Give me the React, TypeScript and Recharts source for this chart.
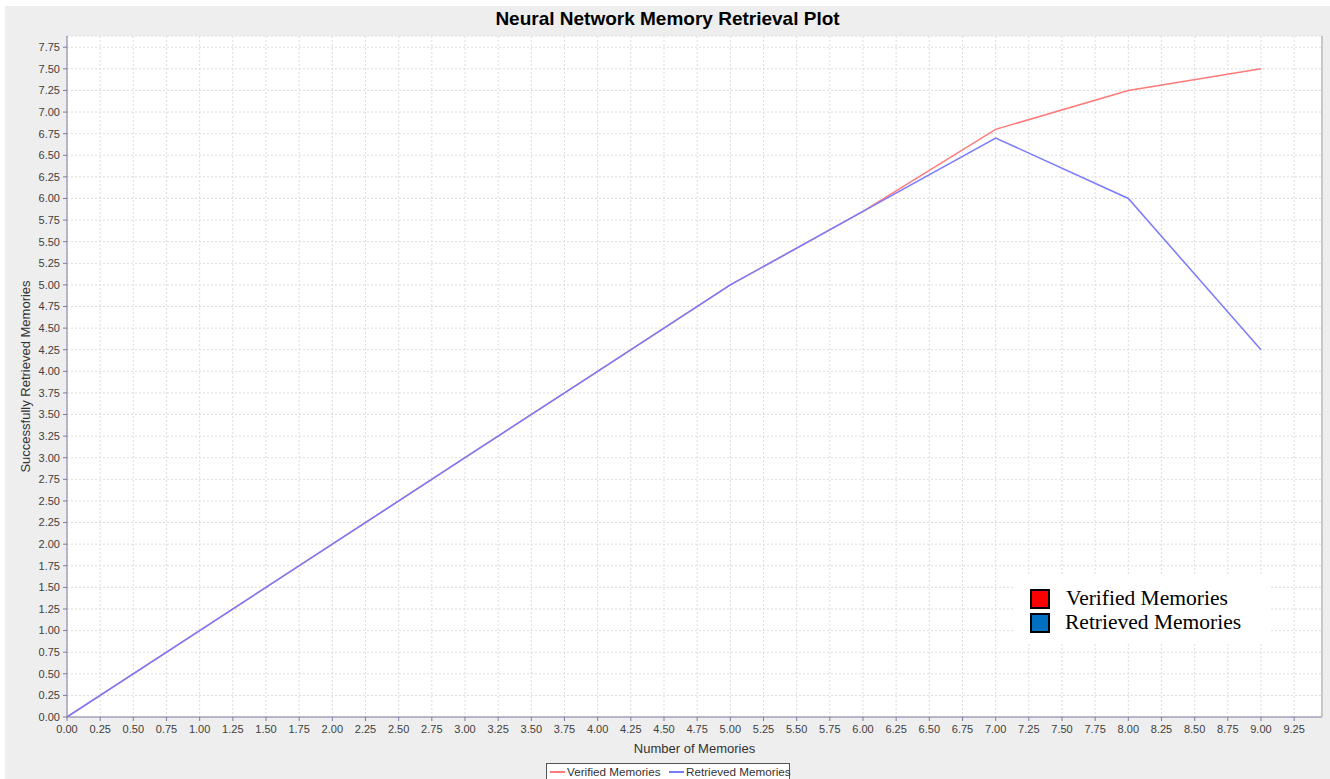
import React from "react";
import { LineChart, Line, XAxis, YAxis, CartesianGrid } from "recharts";

const xValues = [0, 1, 2, 3, 4, 5, 6, 7, 8, 9];
const verifiedMemories = [0, 1, 2, 3, 4, 5, 5.85, 6.8, 7.25, 7.5];
const retrievedMemories = [0, 1, 2, 3, 4, 5, 5.85, 6.7, 6.0, 4.25];
const xTicks = Array.from({ length: 38 }, (_, i) => i * 0.25);
const yTicks = Array.from({ length: 32 }, (_, i) => i * 0.25);

const data = xValues.map((x, i) => ({
  x,
  verified: verifiedMemories[i],
  retrieved: retrievedMemories[i],
}));

const FONT = "'Liberation Sans', Arial, sans-serif";
const tickStyle = { fontSize: 11, fill: "#404040", fontFamily: FONT };

export default function App() {
  return (
    <div style={{ position: "absolute", left: 0, top: 0, width: 1330, height: 779, background: "#fff", overflow: "hidden" }}>
      <div style={{ position: "absolute", left: 5, top: 6, width: 1325, height: 773, background: "#eeeeee" }}>
        <div
          style={{
            position: "absolute",
            left: 0,
            top: 2,
            width: 1325,
            textAlign: "center",
            fontFamily: FONT,
            fontWeight: "bold",
            fontSize: 19,
            lineHeight: "22px",
            color: "#000",
          }}
        >
          Neural Network Memory Retrieval Plot
        </div>
        <LineChart
          width={1325}
          height={773}
          data={data}
          margin={{ top: 30, right: 8, left: 0, bottom: 0 }}
        >
          <CartesianGrid fill="#ffffff" stroke="#dcdcdc" strokeDasharray="2 2" />
          <XAxis
            dataKey="x"
            type="number"
            domain={[0, 9.46]}
            ticks={xTicks}
            allowDataOverflow
            height={62}
            tickSize={4}
            tickMargin={4}
            tickFormatter={(v: number) => v.toFixed(2)}
            tick={tickStyle}
            stroke="#7c7ca0"
            interval={0}
            label={{ value: "Number of Memories", position: "insideBottom", offset: 26, style: { fontSize: 13, fill: "#333", fontFamily: FONT } }}
          />
          <YAxis
            type="number"
            domain={[0, 7.88]}
            ticks={yTicks}
            allowDataOverflow
            width={62}
            tickSize={4}
            tickMargin={3}
            tickFormatter={(v: number) => v.toFixed(2)}
            tick={tickStyle}
            stroke="#7c7ca0"
            interval={0}
            label={{ value: "Successfully Retrieved Memories", angle: -90, position: "center", dx: -11, style: { fontSize: 13, fill: "#333", fontFamily: FONT, textAnchor: "middle" } }}
          />
          <Line type="linear" dataKey="verified" stroke="#ff7a7a" strokeWidth={1.5} dot={false} isAnimationActive={false} />
          <Line type="linear" dataKey="retrieved" stroke="#7a7aff" strokeWidth={1.5} dot={false} isAnimationActive={false} />
        </LineChart>
        {/* right plot border */}
        <div style={{ position: "absolute", left: 1316, top: 30, width: 2, height: 681, background: "#c8c8c8" }} />
        {/* overlay legend */}
        <div
          style={{
            position: "absolute",
            left: 1008,
            top: 570,
            width: 258,
            height: 68,
            background: "#ffffff",
            fontFamily: "'Liberation Serif', 'Times New Roman', serif",
            fontSize: 21.5,
            color: "#000",
          }}
        >
          <div style={{ position: "absolute", left: 17, top: 13, width: 16, height: 16, background: "#ff0000", border: "2px solid #000" }} />
          <div style={{ position: "absolute", left: 53, top: 10, lineHeight: "24px", whiteSpace: "nowrap" }}>Verified Memories</div>
          <div style={{ position: "absolute", left: 17, top: 37, width: 16, height: 16, background: "#0070c0", border: "2px solid #000" }} />
          <div style={{ position: "absolute", left: 52, top: 34, lineHeight: "24px", whiteSpace: "nowrap" }}>Retrieved Memories</div>
        </div>
        {/* bottom legend */}
        <div
          style={{
            position: "absolute",
            left: 541,
            top: 757,
            width: 244,
            height: 20,
            border: "1px solid #555",
            background: "#ffffff",
            fontFamily: FONT,
            fontSize: 11.7,
            color: "#333",
            boxSizing: "border-box",
          }}
        >
          <div style={{ position: "absolute", left: 3, top: 7, width: 15, height: 1.5, background: "#ff7a7a" }} />
          <div style={{ position: "absolute", left: 20, top: 1, lineHeight: "13px", whiteSpace: "nowrap" }}>Verified Memories</div>
          <div style={{ position: "absolute", left: 122, top: 7, width: 15, height: 1.5, background: "#7a7aff" }} />
          <div style={{ position: "absolute", left: 139, top: 1, lineHeight: "13px", whiteSpace: "nowrap" }}>Retrieved Memories</div>
        </div>
      </div>
    </div>
  );
}
